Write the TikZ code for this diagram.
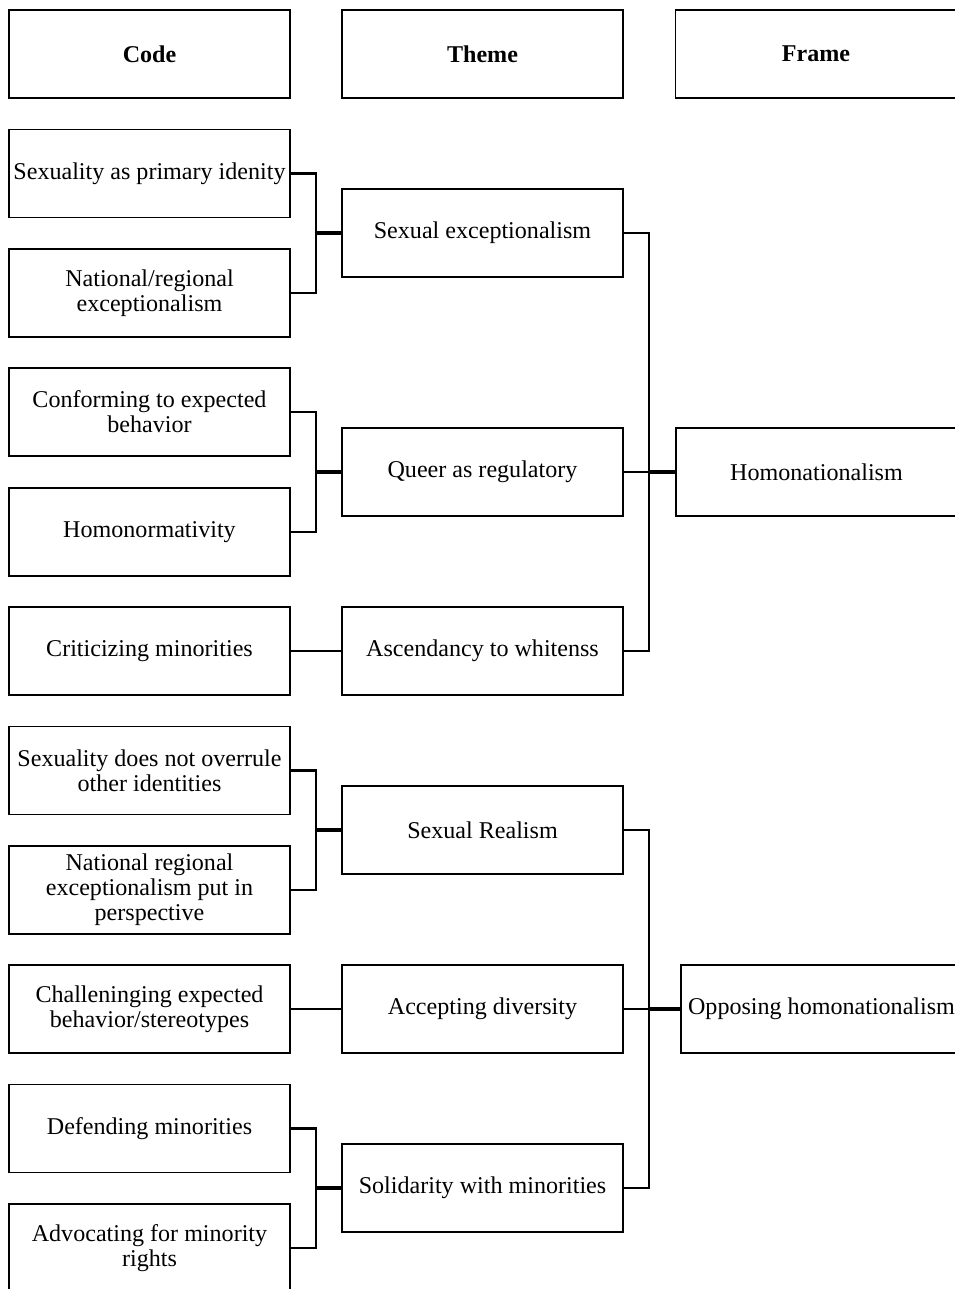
\documentclass[tikz,border=0pt]{standalone}
\usepackage{fontspec}
\setmainfont{Liberation Serif}
\tikzset{
  codebox/.style={draw, line width=1pt, minimum width=5.62cm, minimum height=1.76cm,
    align=center, inner sep=1pt, font=\fontsize{13.7}{14.2}\selectfont},
  headbox/.style={codebox, font=\fontsize{13.7}{14.2}\selectfont\bfseries},
  link/.style={line width=1.4pt},
  joint/.style={line width=2.2pt}
}

\begin{document}
\begin{tikzpicture}
			%%%%% START %%%%%
			\useasboundingbox (0, 0) rectangle (19.08, -25.78);
			
			% headers
			\node[headbox] (hcode) at (2.99, -1.08) {Code};
			\node[headbox] (htheme) at (9.65, -1.08) {Theme};
			\node[headbox] (hframe) at (16.32, -1.08) {Frame};
			
			% codes
			\node[codebox] (c1) at (2.99, -3.47) {Sexuality as primary idenity};
			\node[codebox] (c2) at (2.99, -5.86) {National/regional\\exceptionalism};
			\node[codebox] (c3) at (2.99, -8.24) {Conforming to expected\\behavior};
			\node[codebox] (c4) at (2.99, -10.64) {Homonormativity};
			\node[codebox] (c5) at (2.99, -13.02) {Criticizing minorities};
			\node[codebox] (c6) at (2.99, -15.41) {Sexuality does not overrule\\other identities};
			\node[codebox] (c7) at (2.99, -17.80) {National regional\\exceptionalism put in\\perspective};
			\node[codebox] (c8) at (2.99, -20.18) {Challeninging expected\\behavior/stereotypes};
			\node[codebox] (c9) at (2.99, -22.57) {Defending minorities};
			\node[codebox] (c10) at (2.99, -24.96) {Advocating for minority\\rights};
			
			% themes
			\node[codebox] (t1) at (9.65, -4.66) {Sexual exceptionalism};
			\node[codebox] (t2) at (9.65, -9.44) {Queer as regulatory};
			\node[codebox] (t3) at (9.65, -13.02) {Ascendancy to whitenss};
			\node[codebox] (t4) at (9.65, -16.60) {Sexual Realism};
			\node[codebox] (t5) at (9.65, -20.18) {Accepting diversity};
			\node[codebox] (t6) at (9.65, -23.76) {Solidarity with minorities};
			
			% frames
			\node[codebox] (f1) at (16.33, -9.44) {Homonationalism};
			\node[codebox] (f2) at (16.43, -20.18) {Opposing homonationalism};
			
			% code -> theme
			\coordinate (b1) at (6.32, -4.66);
			\coordinate (b2) at (6.32, -9.44);
			\coordinate (b4) at (6.32, -16.60);
			\coordinate (b6) at (6.32, -23.76);
			
			\draw[link] (c1.east) -| (b1) |- (c2.east);
			\draw[joint] (b1) -- (t1.west);
			\draw[link] (c3.east) -| (b2) |- (c4.east);
			\draw[joint] (b2) -- (t2.west);
			\draw[link] (c5.east) -- (t3.west);
			\draw[link] (c6.east) -| (b4) |- (c7.east);
			\draw[joint] (b4) -- (t4.west);
			\draw[link] (c8.east) -- (t5.west);
			\draw[link] (c9.east) -| (b6) |- (c10.east);
			\draw[joint] (b6) -- (t6.west);
			
			% theme -> frame
			\coordinate (g1) at (12.98, -9.44);
			\coordinate (g2) at (12.98, -20.18);
			
			\draw[link] (t1.east) -| (g1) |- (t3.east);
			\draw[link] (t2.east) -- (g1);
			\draw[joint] (g1) -- (f1.west);
			\draw[link] (t4.east) -| (g2) |- (t6.east);
			\draw[link] (t5.east) -- (g2);
			\draw[joint] (g2) -- (f2.west);
			
			%%%%% END %%%%%
\end{tikzpicture}
\end{document}
